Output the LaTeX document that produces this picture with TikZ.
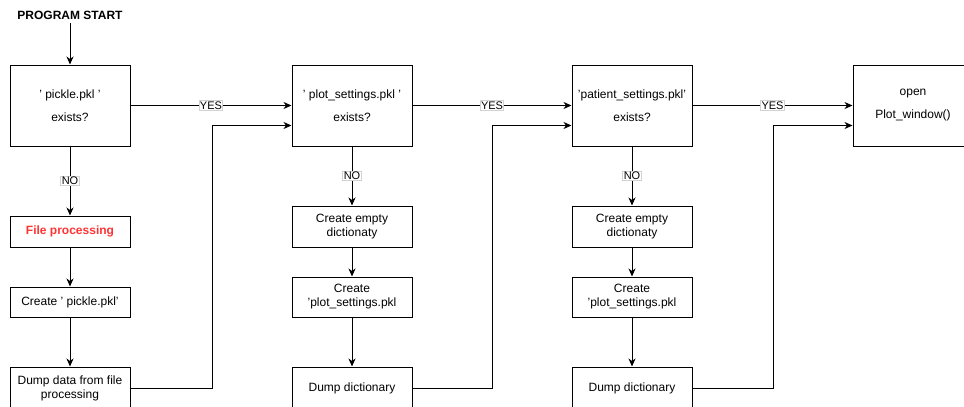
\documentclass[tikz,border=0pt]{standalone}
\usepackage{fontspec}
\setmainfont{Liberation Sans}
\usetikzlibrary{arrows.meta}
\definecolor{fpred}{HTML}{FF3333}
\begin{document}
\begin{tikzpicture}[x=1pt,y=-1pt,
  box/.style={draw, line width=1pt, minimum width=120pt, align=center, font=\fontsize{12}{14}\selectfont, inner sep=0pt},
  dec/.style={box, minimum height=81pt},
  arr/.style={-{Stealth[length=8pt,width=7pt,inset=2.5pt]}, line width=1pt},
  lbl/.style={fill=white, draw=gray!35, inner sep=0.8pt, font=\fontsize{11}{12}\selectfont}]
\useasboundingbox (0,0) rectangle (964,407);
\clip (0,0) rectangle (964,407);
% column 1
\node[font=\fontsize{12}{14}\selectfont\bfseries] (start) at (70,15) {PROGRAM START};
\node[dec] (d1) at (70,105.5) {' pickle.pkl '\\[9pt]exists?};
\node[box, minimum height=31pt, text=fpred, font=\fontsize{12}{14}\selectfont\bfseries] (fp) at (70,231.5) {File processing};
\node[box, minimum height=30pt] (cp) at (70,302) {Create ' pickle.pkl'};
\node[box, minimum height=42pt] (dd1) at (70,388) {Dump data from file\\processing};
% column 2
\node[dec] (d2) at (352,105.5) {' plot\_settings.pkl '\\[9pt]exists?};
\node[box, minimum height=41pt] (ce2) at (352,226.5) {Create empty\\dictionaty};
\node[box, minimum height=40pt] (cs2) at (352,297) {Create\\'plot\_settings.pkl};
\node[box, minimum height=42pt] (dd2) at (352,388) {Dump dictionary};
% column 3
\node[dec] (d3) at (632,105.5) {'patient\_settings.pkl'\\[9pt]exists?};
\node[box, minimum height=41pt] (ce3) at (632,226.5) {Create empty\\dictionaty};
\node[box, minimum height=40pt] (cs3) at (632,297) {Create\\'plot\_settings.pkl};
\node[box, minimum height=42pt] (dd3) at (632,388) {Dump dictionary};
% column 4
\node[dec] (op) at (913,105.5) {open\\[9pt]Plot\_window()};
% connectors
\draw[arr] (start) -- (d1);
\draw[arr] (d1) -- node[lbl]{NO} (fp);
\draw[arr] (fp) -- (cp);
\draw[arr] (cp) -- (dd1);
\draw[arr] (d1.east) -- node[lbl]{YES} (d2.west);
\draw[arr] (dd1.east) -- ++(82,0) |- ([yshift=-20pt]d2.west);
\draw[arr] (d2) -- node[lbl]{NO} (ce2);
\draw[arr] (ce2) -- (cs2);
\draw[arr] (cs2) -- (dd2);
\draw[arr] (d2.east) -- node[lbl]{YES} (d3.west);
\draw[arr] (dd2.east) -- ++(80,0) |- ([yshift=-20pt]d3.west);
\draw[arr] (d3) -- node[lbl]{NO} (ce3);
\draw[arr] (ce3) -- (cs3);
\draw[arr] (cs3) -- (dd3);
\draw[arr] (d3.east) -- node[lbl]{YES} (op.west);
\draw[arr] (dd3.east) -- ++(81,0) |- ([yshift=-20pt]op.west);
\end{tikzpicture}
\end{document}
